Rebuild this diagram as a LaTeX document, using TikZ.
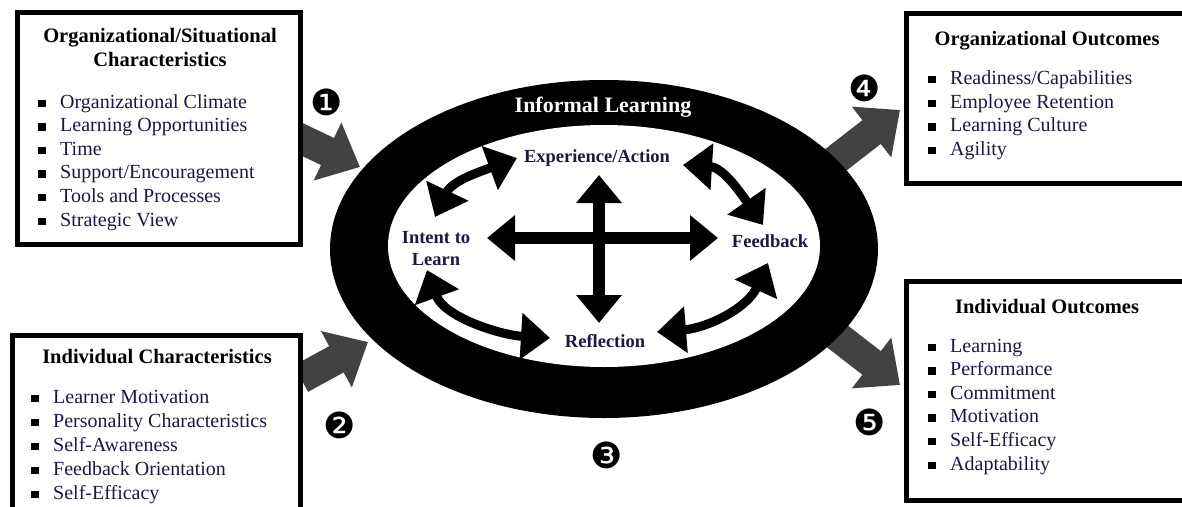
\documentclass[tikz,border=0pt]{standalone}
\usepackage{fontspec}
\setmainfont{Liberation Serif}
\newfontfamily\dejavu{DejaVu Sans}
\usetikzlibrary{arrows.meta}
\definecolor{navy}{RGB}{26,26,64}
\definecolor{arrowgray}{RGB}{66,66,66}
\newcommand{\bul}{\makebox[22pt][l]{\color{black}\raisebox{1pt}{\rule{7.5pt}{7.5pt}}}}
\begin{document}
\begin{tikzpicture}[x=1pt,y=-1pt,
  box/.style={draw=black, line width=5pt, fill=white, inner sep=0pt},
  head/.style={font=\fontsize{20.5}{24.5}\selectfont\bfseries, text=black, inner sep=0pt, anchor=base},
  item/.style={font=\fontsize{20}{24}\selectfont, text=navy, anchor=base west, inner sep=0pt},
  lbl/.style={font=\fontsize{18.5}{22}\selectfont\bfseries, text=navy, inner sep=0pt, anchor=base},
  num/.style={font=\dejavu\fontsize{36}{36}\selectfont, inner sep=0pt},
  big/.style={draw=arrowgray, line width=30pt, -{Triangle[length=36pt,width=62pt]}},
  cross/.style={draw=black, line width=12.5pt, {Triangle[length=28pt,width=44pt]}-{Triangle[length=28pt,width=44pt]}},
  arcarrow/.style={draw=black, line width=9pt, {Triangle[length=29pt,width=45pt]}-{Triangle[length=29pt,width=45pt]}},
]
\useasboundingbox (0,0) rectangle (1182,506);
\clip (0,0) rectangle (1182,506);

% big gray arrows
\coordinate (g1s) at (291.4,134.3); \coordinate (g1t) at (360,167);
\coordinate (g2s) at (300.9,378.7); \coordinate (g2t) at (368,342);
\coordinate (g4s) at (823.6,169.3); \coordinate (g4t) at (900,110);
\coordinate (g5s) at (824,326);     \coordinate (g5t) at (900,385);
\draw[big] (g1s) -- (g1t);
\draw[big] (g2s) -- (g2t);
\draw[big] (g4s) -- (g4t);
\draw[big] (g5s) -- (g5t);

% ring
\coordinate (ringc) at (604,249);
\fill[black] (ringc) ellipse [x radius=274pt, y radius=169pt];
\fill[white] (604,246) ellipse [x radius=216pt, y radius=121pt];
\node[font=\fontsize{22}{26}\selectfont\bfseries, text=white, inner sep=0pt, anchor=base] (il) at (603,112) {Informal Learning};

% boxes
\node[box, minimum width=283pt, minimum height=232pt] (orgsit) at (159,128.5) {};
\node[box, minimum width=288pt, minimum height=200pt] (indchar) at (156,435) {};
\node[box, minimum width=288.5pt, minimum height=170.5pt] (orgout) at (1050.75,98.25) {};
\node[box, minimum width=288.5pt, minimum height=218.5pt] (indout) at (1050.75,390.75) {};

% box A
\node[head] (tA) at (160,42) {\begin{tabular}[t]{@{}c@{}}Organizational/Situational\\Characteristics\end{tabular}};
\node[item] (a1) at (38,108)   {\bul Organizational Climate};
\node[item] (a2) at (38,131.6) {\bul Learning Opportunities};
\node[item] (a3) at (38,155.2) {\bul Time};
\node[item] (a4) at (38,178.8) {\bul Support/Encouragement};
\node[item] (a5) at (38,202.4) {\bul Tools and Processes};
\node[item] (a6) at (38,226)   {\bul Strategic View};

% box B
\node[head] (tB) at (157,363) {Individual Characteristics};
\node[item] (b1) at (31,403) {\bul Learner Motivation};
\node[item] (b2) at (31,427) {\bul Personality Characteristics};
\node[item] (b3) at (31,451) {\bul Self-Awareness};
\node[item] (b4) at (31,475) {\bul Feedback Orientation};
\node[item] (b5) at (31,499) {\bul Self-Efficacy};

% box C
\node[head] (tC) at (1047,45) {Organizational Outcomes};
\node[item] (c1) at (928,84)    {\bul Readiness/Capabilities};
\node[item] (c2) at (928,108)   {\bul Employee Retention};
\node[item] (c3) at (928,131.5) {\bul Learning Culture};
\node[item] (c4) at (928,155)   {\bul Agility};

% box D
\node[head] (tD) at (1047,313) {Individual Outcomes};
\node[item] (d1) at (928,352)   {\bul Learning};
\node[item] (d2) at (928,375.6) {\bul Performance};
\node[item] (d3) at (928,399.2) {\bul Commitment};
\node[item] (d4) at (928,422.8) {\bul Motivation};
\node[item] (d5) at (928,446.4) {\bul Self-Efficacy};
\node[item] (d6) at (928,470)   {\bul Adaptability};

% numbers
\node[num] (n1) at (327,102) {❶};
\node[num] (n2) at (340,425) {❷};
\node[num] (n3) at (607,455) {❸};
\node[num] (n4) at (865,88)  {❹};
\node[num] (n5) at (870,422) {❺};

% inner labels
\node[lbl] (exp) at (597,162) {Experience/Action};
\node[lbl] (intent) at (436,243) {\begin{tabular}[t]{@{}c@{}}Intent to\\Learn\end{tabular}};
\node[lbl] (fb) at (770,247) {Feedback};
\node[lbl] (refl) at (605,347) {Reflection};

% cross
\coordinate (hl) at (487,238); \coordinate (hr) at (718,238);
\coordinate (vt) at (599,175); \coordinate (vb) at (599,323);
\draw[cross] (hl) -- (hr);
\draw[cross] (vt) -- (vb);

% arcs
\coordinate (tl1) at (435,217); \coordinate (tl2) at (517,158);
\coordinate (tr1) at (683,165); \coordinate (tr2) at (763,225);
\coordinate (br1) at (657,332); \coordinate (br2) at (768,263);
\coordinate (bl1) at (427,270); \coordinate (bl2) at (550,338);
\draw[arcarrow] (tl1) .. controls (452,181) and (479,172) .. (tl2);
\draw[arcarrow] (tr1) .. controls (723,167.4) and (740,192) .. (tr2);
\draw[arcarrow] (br1) .. controls (707,328) and (747,308.5) .. (br2);
\draw[arcarrow] (bl1) .. controls (444,317) and (500,335) .. (bl2);
\end{tikzpicture}
\end{document}
